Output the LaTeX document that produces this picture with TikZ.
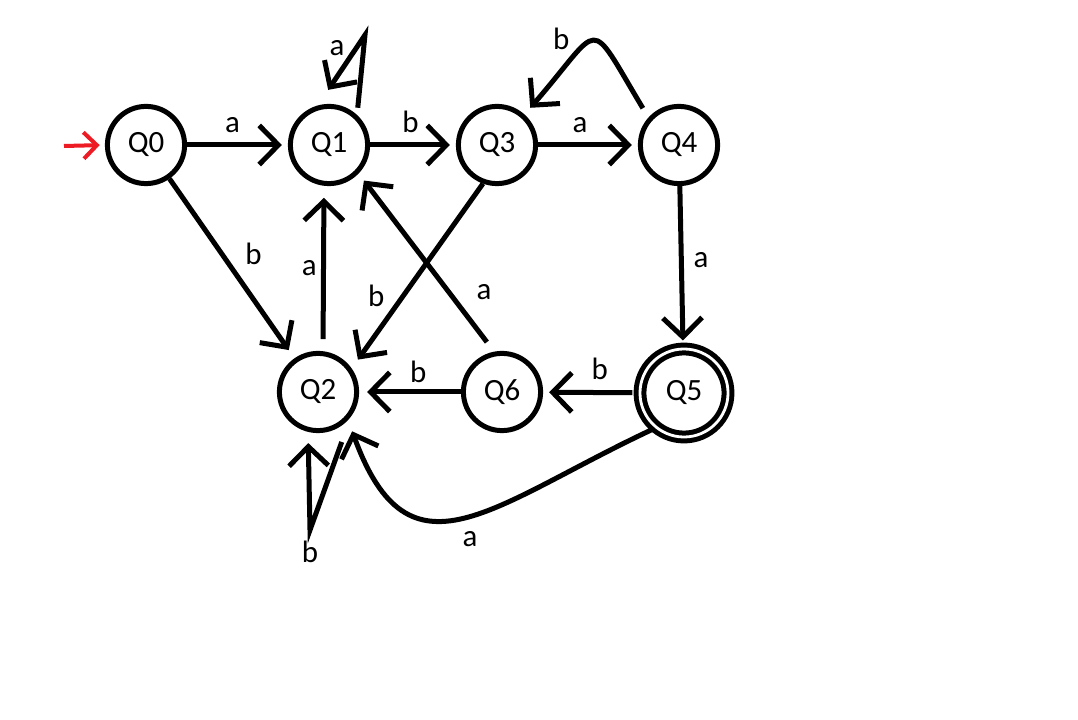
\documentclass[tikz,border=0pt]{standalone}
\usepackage{fontspec}
\setmainfont{Carlito}
\usetikzlibrary{arrows.meta}
\definecolor{paintred}{RGB}{237,28,36}

\begin{document}
\begin{tikzpicture}[x=0.025cm,y=-0.025cm,line width=0.125cm,shorten >=0.15cm,auto,
  >={Straight Barb[length=0.48cm,width=0.98cm]}]
\tikzstyle{state}=[circle,draw,minimum size=1.93cm,inner sep=0pt,font=\fontsize{22}{26}\selectfont]
\tikzstyle{accept}=[state,double,double distance=0.07cm,minimum size=2.2cm]
\tikzstyle{lab}=[font=\fontsize{22}{26}\selectfont,inner sep=7pt]
\path[use as bounding box,fill=white] (0,0) rectangle (1078,720);

\node[state](Q0) at (146,145) {Q0};
\node[state](Q1) at (329,145) {Q1};
\node[state](Q3) at (497,145) {Q3};
\node[state](Q4) at (679,145) {Q4};
\node[state](Q2) at (318,392) {Q2};
\node[state](Q6) at (502,392) {Q6};
\node[accept](Q5) at (684,393) {Q5};
\coordinate (start) at (64,146);
\coordinate (aloop) at (365,35);
\coordinate (bloop) at (310,530);

% start arrow
\draw[->,paintred,line width=0.1cm,shorten >=0.13cm,>={Straight Barb[length=0.33cm,width=0.66cm]}] (start) -- (Q0.west);

\path (Q0) edge[->] node[lab,pos=.45]{a} (Q1) % simple edges
      (Q1) edge[->] node[lab,pos=.47]{b} (Q3)
      (Q3) edge[->] node[lab,pos=.42]{a} (Q4)
      (Q4) edge[->] node[lab,pos=.46]{a} (Q5)
      (Q5) edge[->,shorten <=0.13cm] node[lab,swap,pos=.4]{b} (Q6)
      (Q6) edge[->,shorten >=0.2cm] node[lab,swap,pos=.42,inner sep=5pt]{b} (Q2)
      (Q0) edge[->,shorten >=0.25cm] node[lab,pos=.53,inner sep=5pt]{b} (Q2)
      (Q2.83) edge[->,shorten <=0.3cm,shorten >=0.3cm] node[lab,inner sep=3pt]{a} (Q1.-97)
      (Q3.-110) edge[->,shorten >=0.27cm] node[lab,swap,pos=.7,inner sep=3pt]{b} (Q2.35)
      (Q6.101) edge[->,shorten <=0.3cm,shorten >=0.22cm] node[lab,swap,pos=.22]{a} (Q1.-44);

% curved edges
\path (Q4.138) edge[->,out=121,in=49,looseness=2.5,shorten <=0.27cm,shorten >=0.22cm] node[lab,swap,pos=.7,inner sep=2pt]{b} (Q3.48)
      (Q5.230) edge[->,out=205,in=290,looseness=1.5,shorten >=0.3cm] node[lab,pos=.55,inner sep=8pt]{a} (Q2.317);

% loops
\draw[->,shorten <=0.18cm,shorten >=0.47cm] (Q1.47) -- (aloop) node[lab,xshift=-0.7cm,yshift=-0.32cm]{a} -- (Q1.106);
\draw[->,shorten <=0.67cm,shorten >=0.28cm] (Q2.-37) -- (bloop) node[lab,yshift=-0.55cm]{b} -- (Q2.-104);

\end{tikzpicture}
\end{document}
